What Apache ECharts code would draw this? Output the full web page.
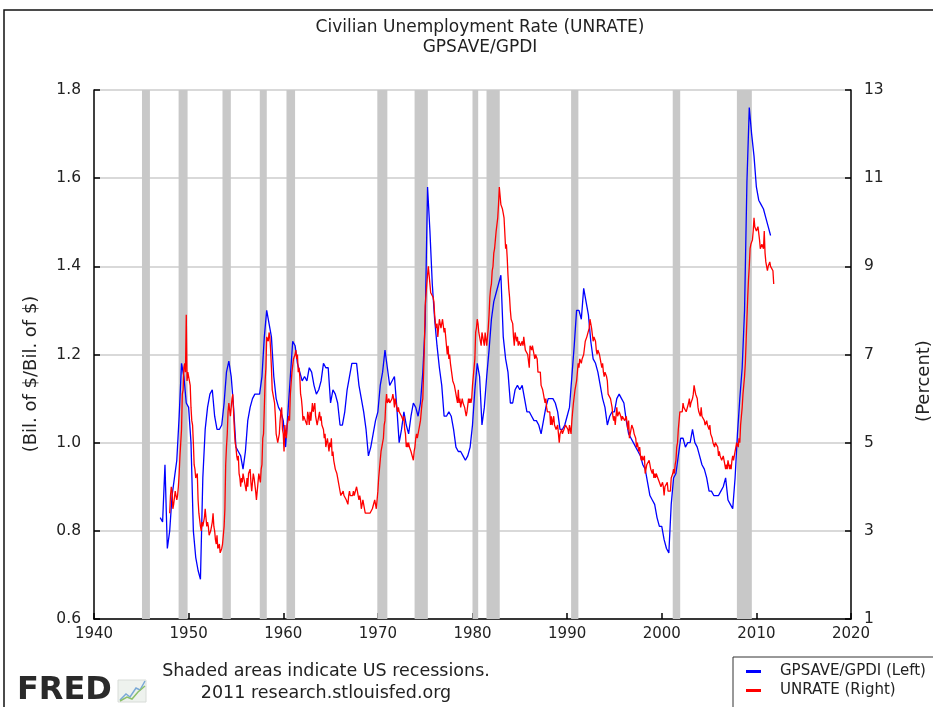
<!doctype html>
<html>
<head>
<meta charset="utf-8">
<title>UNRATE vs GPSAVE/GPDI</title>
<script src="https://cdn.jsdelivr.net/npm/echarts@6/dist/echarts.min.js"></script>
<style>
  html, body { margin: 0; padding: 0; background: #fff; }
  #chart { width: 933px; height: 707px; }
</style>
</head>
<body>
<div id="chart"></div>
<script>
  // GPSAVE/GPDI, quarterly, from 1947 Q1 (left axis)
  var gpsaveGpdi = [
    0.83, 0.82, 0.95, 0.76,   0.80, 0.88, 0.92, 0.96,   1.06, 1.18, 1.15, 1.09,
    1.08, 1.00, 0.80, 0.74,   0.71, 0.69, 0.92, 1.03,   1.08, 1.11, 1.12, 1.06,
    1.03, 1.03, 1.04, 1.09,   1.16, 1.185, 1.15, 1.08,  0.99, 0.98, 0.97, 0.94,
    0.98, 1.05, 1.08, 1.10,   1.11, 1.11, 1.11, 1.15,   1.24, 1.30, 1.27, 1.24,
    1.15, 1.10, 1.08, 1.07,   1.05, 0.99, 1.07, 1.15,   1.23, 1.22, 1.18, 1.16,
    1.14, 1.15, 1.14, 1.17,   1.16, 1.13, 1.11, 1.12,   1.14, 1.18, 1.17, 1.17,
    1.09, 1.12, 1.11, 1.09,   1.04, 1.04, 1.07, 1.12,   1.15, 1.18, 1.18, 1.18,
    1.13, 1.10, 1.07, 1.03,   0.97, 0.99, 1.02, 1.05,   1.07, 1.13, 1.16, 1.21,
    1.17, 1.13, 1.14, 1.15,   1.08, 1.00, 1.03, 1.07,   1.04, 1.02, 1.06, 1.09,
    1.08, 1.06, 1.09, 1.16,   1.27, 1.58, 1.48, 1.36,   1.28, 1.22, 1.17, 1.13,
    1.06, 1.06, 1.07, 1.06,   1.03, 0.99, 0.98, 0.98,   0.97, 0.96, 0.97, 0.99,
    1.04, 1.12, 1.18, 1.15,   1.04, 1.08, 1.15, 1.21,   1.28, 1.32, 1.34, 1.36,
    1.38, 1.24, 1.19, 1.16,   1.09, 1.09, 1.12, 1.13,   1.12, 1.13, 1.10, 1.07,
    1.07, 1.06, 1.05, 1.05,   1.04, 1.02, 1.05, 1.08,   1.10, 1.10, 1.10, 1.09,
    1.07, 1.03, 1.03, 1.04,   1.06, 1.08, 1.15, 1.22,   1.30, 1.30, 1.28, 1.35,
    1.32, 1.29, 1.23, 1.19,   1.18, 1.16, 1.13, 1.10,   1.08, 1.04, 1.06, 1.07,
    1.07, 1.10, 1.11, 1.10,   1.09, 1.05, 1.02, 1.01,   1.00, 0.99, 0.98, 0.97,
    0.95, 0.94, 0.91, 0.88,   0.87, 0.86, 0.83, 0.81,   0.81, 0.78, 0.76, 0.75,
    0.86, 0.92, 0.93, 0.97,   1.01, 1.01, 0.99, 1.00,   1.00, 1.03, 1.00, 0.99,
    0.97, 0.95, 0.94, 0.92,   0.89, 0.89, 0.88, 0.88,   0.88, 0.89, 0.90, 0.92,
    0.87, 0.86, 0.85, 0.92,   1.02, 1.10, 1.17, 1.30,   1.59, 1.76, 1.70, 1.65,
    1.58, 1.55, 1.54, 1.53,   1.51, 1.49, 1.47
  ];

  // UNRATE, monthly, from Jan 1948 (right axis)
  var unrate = [
    3.4, 3.8, 4.0, 3.9, 3.5, 3.6, 3.6, 3.9, 3.8, 3.7, 3.8, 4.0,
    4.3, 4.7, 5.0, 5.3, 6.1, 6.2, 6.7, 6.8, 6.6, 7.9, 6.4, 6.6,
    6.5, 6.4, 6.3, 5.8, 5.5, 5.4, 5.0, 4.5, 4.4, 4.2, 4.2, 4.3,
    3.7, 3.4, 3.4, 3.1, 3.0, 3.2, 3.1, 3.1, 3.3, 3.5, 3.5, 3.1,
    3.2, 3.1, 2.9, 2.9, 3.0, 3.0, 3.2, 3.4, 3.1, 3.0, 2.8, 2.7,
    2.9, 2.6, 2.6, 2.7, 2.5, 2.5, 2.6, 2.7, 2.9, 3.1, 3.5, 4.5,
    4.9, 5.2, 5.7, 5.9, 5.9, 5.6, 5.8, 6.0, 6.1, 5.7, 5.3, 5.0,
    4.9, 4.7, 4.6, 4.7, 4.3, 4.2, 4.0, 4.2, 4.1, 4.3, 4.2, 4.2,
    4.0, 3.9, 4.2, 4.0, 4.3, 4.3, 4.4, 4.1, 3.9, 3.9, 4.3, 4.2,
    4.2, 3.9, 3.7, 3.9, 4.1, 4.3, 4.2, 4.1, 4.4, 4.5, 5.1, 5.2,
    5.8, 6.4, 6.7, 7.4, 7.4, 7.3, 7.5, 7.4, 7.1, 6.7, 6.2, 6.2,
    6.0, 5.9, 5.6, 5.2, 5.1, 5.0, 5.1, 5.2, 5.5, 5.7, 5.8, 5.3,
    5.2, 4.8, 5.4, 5.2, 5.1, 5.4, 5.5, 5.6, 5.5, 6.1, 6.1, 6.6,
    6.6, 6.9, 6.9, 7.0, 7.1, 6.9, 7.0, 6.6, 6.7, 6.5, 6.1, 6.0,
    5.8, 5.5, 5.6, 5.6, 5.5, 5.5, 5.4, 5.7, 5.6, 5.4, 5.7, 5.5,
    5.7, 5.9, 5.7, 5.7, 5.9, 5.6, 5.6, 5.4, 5.5, 5.5, 5.7, 5.5,
    5.6, 5.4, 5.4, 5.3, 5.1, 5.2, 4.9, 5.0, 5.1, 5.1, 4.8, 5.0,
    4.9, 5.1, 4.7, 4.8, 4.6, 4.6, 4.4, 4.4, 4.3, 4.2, 4.1, 4.0,
    4.0, 3.8, 3.8, 3.8, 3.9, 3.8, 3.8, 3.8, 3.7, 3.7, 3.6, 3.8,
    3.9, 3.8, 3.8, 3.8, 3.8, 3.9, 3.8, 3.8, 3.8, 4.0, 3.9, 3.8,
    3.7, 3.8, 3.7, 3.5, 3.5, 3.7, 3.7, 3.5, 3.4, 3.4, 3.4, 3.4,
    3.4, 3.4, 3.4, 3.4, 3.4, 3.5, 3.5, 3.5, 3.7, 3.7, 3.5, 3.5,
    3.9, 4.2, 4.4, 4.6, 4.8, 4.9, 5.0, 5.1, 5.4, 5.5, 5.9, 6.1,
    5.9, 5.9, 6.0, 5.9, 5.9, 5.9, 6.0, 6.1, 6.0, 5.8, 6.0, 6.0,
    5.8, 5.7, 5.8, 5.7, 5.7, 5.7, 5.6, 5.6, 5.5, 5.6, 5.3, 5.2,
    4.9, 5.0, 4.9, 5.0, 4.9, 4.9, 4.8, 4.8, 4.8, 4.6, 4.8, 4.9,
    5.1, 5.2, 5.1, 5.1, 5.1, 5.4, 5.5, 5.5, 5.9, 6.0, 6.6, 7.2,
    8.1, 8.1, 8.6, 8.8, 9.0, 8.8, 8.6, 8.4, 8.4, 8.4, 8.3, 8.2,
    7.9, 7.7, 7.6, 7.7, 7.4, 7.6, 7.8, 7.8, 7.6, 7.7, 7.8, 7.8,
    7.5, 7.6, 7.4, 7.2, 7.0, 7.2, 6.9, 7.0, 6.8, 6.8, 6.8, 6.4,
    6.4, 6.3, 6.3, 6.1, 6.0, 5.9, 6.2, 5.9, 6.0, 5.8, 5.9, 6.0,
    5.9, 5.9, 5.8, 5.8, 5.6, 5.7, 5.7, 6.0, 5.9, 6.0, 5.9, 6.0,
    6.3, 6.3, 6.3, 6.9, 7.5, 7.6, 7.8, 7.7, 7.5, 7.5, 7.5, 7.2,
    7.5, 7.4, 7.4, 7.2, 7.5, 7.5, 7.2, 7.4, 7.6, 7.9, 8.3, 8.5,
    8.6, 8.9, 9.0, 9.3, 9.4, 9.6, 9.8, 9.8, 10.1, 10.4, 10.8, 10.8,
    10.4, 10.4, 10.3, 10.2, 10.1, 10.1, 9.4, 9.5, 9.2, 8.8, 8.5, 8.3,
    8.0, 7.8, 7.8, 7.7, 7.4, 7.2, 7.5, 7.5, 7.3, 7.4, 7.2, 7.3,
    7.3, 7.2, 7.2, 7.3, 7.2, 7.4, 7.4, 7.1, 7.1, 7.1, 7.0, 7.0,
    6.7, 7.2, 7.2, 7.1, 7.2, 7.2, 7.0, 6.9, 7.0, 7.0, 6.9, 6.6,
    6.6, 6.6, 6.6, 6.3, 6.3, 6.2, 6.1, 6.0, 5.9, 6.0, 5.8, 5.7,
    5.7, 5.7, 5.7, 5.4, 5.6, 5.4, 5.4, 5.6, 5.4, 5.4, 5.3, 5.3,
    5.4, 5.2, 5.0, 5.2, 5.2, 5.3, 5.2, 5.2, 5.3, 5.3, 5.4, 5.4,
    5.4, 5.3, 5.2, 5.4, 5.4, 5.2, 5.5, 5.7, 5.9, 5.9, 6.2, 6.3,
    6.4, 6.6, 6.8, 6.7, 6.9, 6.9, 6.8, 6.9, 6.9, 7.0, 7.0, 7.3,
    7.3, 7.4, 7.4, 7.4, 7.6, 7.8, 7.7, 7.6, 7.6, 7.3, 7.4, 7.4,
    7.3, 7.1, 7.0, 7.1, 7.1, 7.0, 6.9, 6.8, 6.7, 6.8, 6.6, 6.5,
    6.6, 6.6, 6.5, 6.4, 6.1, 6.1, 6.1, 6.0, 5.9, 5.8, 5.6, 5.5,
    5.6, 5.4, 5.4, 5.8, 5.6, 5.6, 5.7, 5.7, 5.6, 5.5, 5.6, 5.6,
    5.6, 5.5, 5.5, 5.6, 5.6, 5.3, 5.5, 5.1, 5.2, 5.2, 5.4, 5.4,
    5.3, 5.2, 5.2, 5.1, 4.9, 5.0, 4.9, 4.8, 4.9, 4.7, 4.6, 4.7,
    4.6, 4.6, 4.7, 4.3, 4.4, 4.5, 4.5, 4.5, 4.6, 4.5, 4.4, 4.4,
    4.3, 4.4, 4.2, 4.3, 4.2, 4.3, 4.3, 4.2, 4.2, 4.1, 4.1, 4.0,
    4.0, 4.1, 4.0, 3.8, 4.0, 4.0, 4.0, 4.1, 3.9, 3.9, 3.9, 3.9,
    4.2, 4.2, 4.3, 4.4, 4.3, 4.5, 4.6, 4.9, 5.0, 5.3, 5.5, 5.7,
    5.7, 5.7, 5.7, 5.9, 5.8, 5.8, 5.8, 5.7, 5.7, 5.7, 5.9, 6.0,
    5.8, 5.9, 5.9, 6.0, 6.1, 6.3, 6.2, 6.1, 6.1, 6.0, 5.8, 5.7,
    5.7, 5.6, 5.8, 5.6, 5.6, 5.6, 5.5, 5.4, 5.4, 5.5, 5.4, 5.4,
    5.3, 5.4, 5.2, 5.2, 5.1, 5.0, 5.0, 4.9, 5.0, 5.0, 5.0, 4.9,
    4.7, 4.8, 4.7, 4.7, 4.6, 4.6, 4.7, 4.7, 4.5, 4.4, 4.5, 4.4,
    4.6, 4.5, 4.4, 4.5, 4.4, 4.6, 4.7, 4.6, 4.7, 4.7, 4.7, 5.0,
    5.0, 4.9, 5.1, 5.0, 5.4, 5.6, 5.8, 6.1, 6.1, 6.5, 6.8, 7.3,
    7.8, 8.3, 8.7, 9.0, 9.4, 9.5, 9.5, 9.6, 9.8, 10.1, 9.9, 9.9,
    9.8, 9.8, 9.9, 9.9, 9.6, 9.4, 9.4, 9.5, 9.5, 9.4, 9.8, 9.3,
    9.1, 9.0, 8.9, 9.0, 9.0, 9.1, 9.0, 9.0, 9.0, 8.9, 8.6
  ];

  // recession shading (decimal years)
  var recessionStart = [1945.07, 1948.94, 1953.58, 1957.52, 1960.34, 1969.94, 1973.88, 1980.0, 1981.48, 1990.42, 2001.16, 2007.94];
  var recessionEnd   = [1945.91, 1949.89, 1954.46, 1958.26, 1961.25, 1971.0, 1975.28, 1980.6, 1982.88, 1991.19, 2001.95, 2009.52];

  var leftName = 'GPSAVE/GPDI (Left)';
  var rightName = 'UNRATE (Right)';

  var blueData = gpsaveGpdi.map(function (v, i) { return [1947 + i / 4, v]; });
  var redData = unrate.map(function (v, i) { return [1948 + i / 12, v]; });
  var bands = recessionStart.map(function (s, i) {
    return [{ xAxis: s }, { xAxis: recessionEnd[i] }];
  });

  var font = 'DejaVu Sans';
  var txt = '#222';

  var myChart = echarts.init(document.getElementById('chart'), null, { renderer: 'canvas' });

  myChart.setOption({
    backgroundColor: '#fff',
    animation: false,
    grid: { left: 94, right: 82, top: 90, bottom: 88 },
    legend: {
      left: 741, top: 659, orient: 'vertical',
      icon: 'rect', itemWidth: 15, itemHeight: 3, itemGap: 4,
      data: [leftName, rightName],
      textStyle: { fontFamily: font, fontSize: 15, color: txt, padding: [0, 0, 0, 14] }
    },
    xAxis: {
      type: 'value', min: 1940, max: 2020, interval: 10,
      axisLine: { onZero: false, lineStyle: { color: '#000', width: 1.5 } },
      axisTick: { inside: true, length: 6, lineStyle: { color: '#000', width: 1.5 } },
      axisLabel: { fontFamily: font, fontSize: 15, color: txt, margin: 8, formatter: function (v) { return String(v); } },
      splitLine: { show: false }
    },
    yAxis: [{
      type: 'value', min: 0.6, max: 1.8, interval: 0.2, position: 'left',
      axisLine: { show: true, lineStyle: { color: '#000', width: 1.5 } },
      axisTick: { show: true, inside: true, length: 6, lineStyle: { color: '#000', width: 1.5 } },
      axisLabel: { fontFamily: font, fontSize: 15.5, color: txt, margin: 13, formatter: function (v) { return v.toFixed(1); } },
      splitLine: { show: true, lineStyle: { color: '#cccccc', width: 1.5 } }
    }, {
      type: 'value', min: 1, max: 13, interval: 2, position: 'right',
      axisLine: { show: true, lineStyle: { color: '#000', width: 1.5 } },
      axisTick: { show: true, inside: true, length: 6, lineStyle: { color: '#000', width: 1.5 } },
      axisLabel: { fontFamily: font, fontSize: 15.5, color: txt, margin: 13 },
      splitLine: { show: false }
    }],
    series: [{
      name: 'recessions', type: 'line', data: [], z: 1, silent: true,
      markArea: { silent: true, itemStyle: { color: '#c8c8c8' }, data: bands }
    }, {
      name: leftName, type: 'line', yAxisIndex: 0, data: blueData, z: 3,
      showSymbol: false, symbol: 'none', color: '#0000ff',
      lineStyle: { color: '#0000ff', width: 1.3 }
    }, {
      name: rightName, type: 'line', yAxisIndex: 1, data: redData, z: 4,
      showSymbol: false, symbol: 'none', color: '#ff0000',
      lineStyle: { color: '#ff0000', width: 1.3 }
    }],
    graphic: [
      { type: 'rect', z: -10, shape: { x: 4, y: 10, width: 1000, height: 1000 },
        style: { fill: 'none', stroke: '#111', lineWidth: 1.5 } },
      { type: 'text', x: 480, y: 28, style: { text: 'Civilian Unemployment Rate (UNRATE)', font: '17px "DejaVu Sans"', fill: txt, textAlign: 'center', textVerticalAlign: 'middle' } },
      { type: 'text', x: 480, y: 48, style: { text: 'GPSAVE/GPDI', font: '17px "DejaVu Sans"', fill: txt, textAlign: 'center', textVerticalAlign: 'middle' } },
      { type: 'text', x: 31, y: 374, rotation: Math.PI / 2,
        style: { text: '(Bil. of $/Bil. of $)', font: '18px "DejaVu Sans"', fill: txt, textAlign: 'center', textVerticalAlign: 'middle' } },
      { type: 'text', x: 924, y: 381, rotation: Math.PI / 2,
        style: { text: '(Percent)', font: '18px "DejaVu Sans"', fill: txt, textAlign: 'center', textVerticalAlign: 'middle' } },
      { type: 'text', x: 326, y: 671, style: { text: 'Shaded areas indicate US recessions.', font: '17.5px "DejaVu Sans"', fill: txt, textAlign: 'center', textVerticalAlign: 'middle' } },
      { type: 'text', x: 326, y: 693, style: { text: '2011 research.stlouisfed.org', font: '17.5px "DejaVu Sans"', fill: txt, textAlign: 'center', textVerticalAlign: 'middle' } },
      { type: 'text', x: 17, y: 691, style: { text: 'FRED', font: 'bold 32px "DejaVu Sans"', fill: '#2a2a2a', textVerticalAlign: 'middle' } },
      { type: 'rect', shape: { x: 118, y: 680, width: 28, height: 22 }, style: { fill: '#eef2ee', stroke: '#d8dcd8', lineWidth: 1 } },
      { type: 'polyline', shape: { points: [[120, 700], [126, 694], [130, 697], [136, 688], [140, 690], [145, 681]] }, style: { stroke: '#7aa9d6', lineWidth: 1.5, fill: 'none' } },
      { type: 'polyline', shape: { points: [[120, 701], [127, 697], [132, 699], [138, 692], [145, 686]] }, style: { stroke: '#8cc06a', lineWidth: 1.5, fill: 'none' } },
      { type: 'rect', z: -5, shape: { x: 733, y: 657, width: 220, height: 60 }, style: { fill: '#fff', stroke: '#333', lineWidth: 1 } }
    ]
  });
</script>
</body>
</html>
